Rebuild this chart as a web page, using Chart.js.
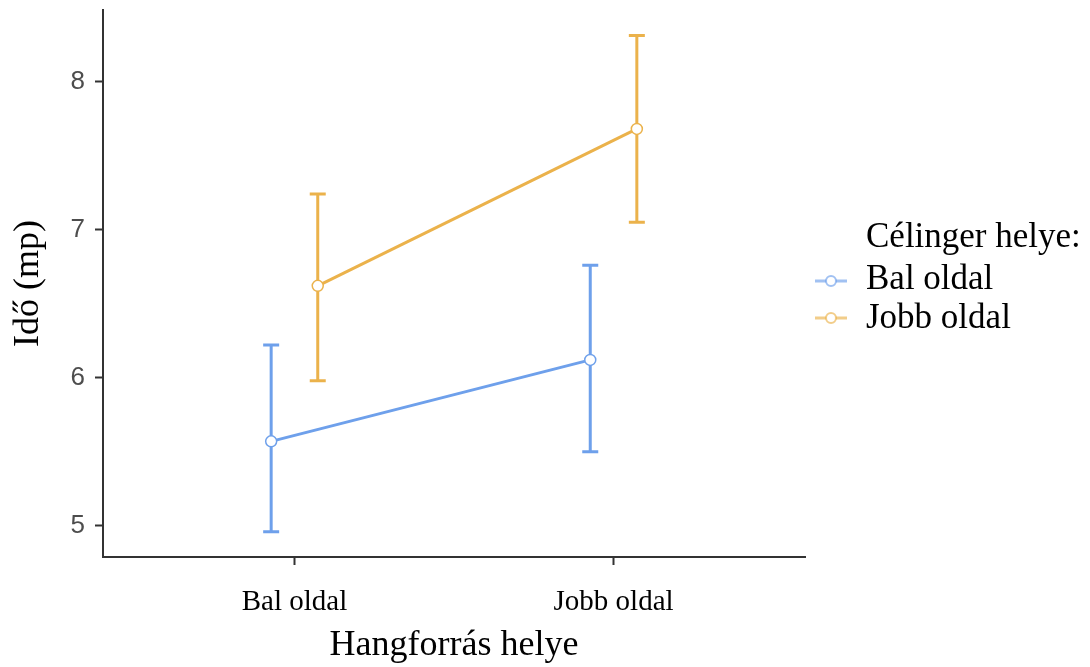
<!DOCTYPE html>
<html>
<head>
<meta charset="utf-8">
<title>Idő (mp)</title>
<script src="https://cdn.jsdelivr.net/npm/chart.js@4/dist/chart.umd.min.js"></script>
<style>
  html, body { margin: 0; padding: 0; background: #ffffff; }
  #wrap { width: 1090px; height: 667px; }
</style>
</head>
<body>
<div id="wrap"><canvas id="chart" width="1090" height="667"></canvas></div>
<script>
// Categories on the x axis (Hangforrás helye)
const categories = ['Bal oldal', 'Jobb oldal'];
// Legend entries (Célinger helye)
const seriesNames = ['Bal oldal', 'Jobb oldal'];
const legendTitle = 'Célinger helye:';

// Means with lower / upper error-bar limits, per series
const balMean  = [5.57, 6.12];
const balLow   = [4.96, 5.50];
const balHigh  = [6.22, 6.76];
const jobbMean = [6.62, 7.68];
const jobbLow  = [5.98, 7.05];
const jobbHigh = [7.24, 8.31];

// Y tick values
const yTicks = [5, 6, 7, 8];

const blue = '#6EA0EB';
const orange = '#EBB24B';
const serif = "'Liberation Serif', 'Times New Roman', serif";
const sans = "'Liberation Sans', Arial, sans-serif";

// Horizontal dodge between the two series within a category
const dodge = 0.073;

function toPoints(means, shift) {
  return means.map((v, i) => ({ x: i + 1 + shift, y: v }));
}

const seriesDefs = [
  { name: seriesNames[0], mean: balMean, low: balLow, high: balHigh, color: blue, shift: -dodge },
  { name: seriesNames[1], mean: jobbMean, low: jobbLow, high: jobbHigh, color: orange, shift: dodge }
];

// Error bars drawn through the chart's own scales
const errorBars = {
  id: 'errorBars',
  beforeDatasetsDraw(chart) {
    const { ctx, scales: { x, y } } = chart;
    ctx.save();
    seriesDefs.forEach(s => {
      ctx.strokeStyle = s.color;
      ctx.lineWidth = 3;
      ctx.lineCap = 'butt';
      s.mean.forEach((_, i) => {
        const px = x.getPixelForValue(i + 1 + s.shift);
        const yl = y.getPixelForValue(s.low[i]);
        const yh = y.getPixelForValue(s.high[i]);
        const half = 8;
        ctx.beginPath();
        ctx.moveTo(px, yl); ctx.lineTo(px, yh);
        ctx.moveTo(px - half, yl); ctx.lineTo(px + half, yl);
        ctx.moveTo(px - half, yh); ctx.lineTo(px + half, yh);
        ctx.stroke();
      });
    });
    ctx.restore();
  }
};

// Legend to the right of the plotting area
const sideLegend = {
  id: 'sideLegend',
  afterDraw(chart) {
    const { ctx, chartArea } = chart;
    const textX = chartArea.right + 61;
    const keyX = chartArea.right + 26;
    ctx.save();
    ctx.font = '35px ' + serif;
    ctx.fillStyle = '#000000';
    ctx.textAlign = 'left';
    ctx.textBaseline = 'alphabetic';
    ctx.fillText(legendTitle, textX, 247);
    const baselines = [289, 328];
    const keyYs = [281, 318];
    seriesDefs.forEach((s, i) => {
      ctx.globalAlpha = 0.65;
      ctx.strokeStyle = s.color;
      ctx.lineWidth = 3;
      ctx.beginPath();
      ctx.moveTo(keyX - 16, keyYs[i]);
      ctx.lineTo(keyX + 16, keyYs[i]);
      ctx.stroke();
      ctx.globalAlpha = 1;
      ctx.beginPath();
      ctx.arc(keyX, keyYs[i], 5, 0, Math.PI * 2);
      ctx.fillStyle = '#ffffff';
      ctx.fill();
      ctx.globalAlpha = 0.65;
      ctx.lineWidth = 2;
      ctx.stroke();
      ctx.globalAlpha = 1;
      ctx.fillStyle = '#000000';
      ctx.fillText(s.name, textX, baselines[i]);
    });
    ctx.restore();
  }
};

new Chart(document.getElementById('chart'), {
  type: 'scatter',
  data: {
    datasets: seriesDefs.map(s => ({
      label: s.name,
      data: toPoints(s.mean, s.shift),
      showLine: true,
      borderColor: s.color,
      borderWidth: 3,
      pointRadius: 5.5,
      pointHoverRadius: 5.5,
      pointBorderWidth: 1.5,
      pointBackgroundColor: '#ffffff',
      pointBorderColor: s.color
    }))
  },
  options: {
    responsive: false,
    animation: false,
    devicePixelRatio: 1,
    layout: { padding: { top: 10, right: 285, bottom: 0, left: 0 } },
    plugins: {
      legend: { display: false },
      tooltip: { enabled: false }
    },
    scales: {
      x: {
        type: 'linear',
        min: 0.4,
        max: 2.6,
        afterBuildTicks(scale) {
          scale.ticks = categories.map((_, i) => ({ value: i + 1 }));
        },
        afterFit(scale) {
          scale.height = 110;
          scale.paddingLeft = 0;
          scale.paddingRight = 0;
        },
        ticks: {
          callback: v => categories[Math.round(v) - 1] || '',
          font: { family: serif, size: 29 },
          color: '#000000',
          padding: 20,
          maxRotation: 0,
          autoSkip: false
        },
        grid: {
          drawOnChartArea: false,
          drawTicks: true,
          tickLength: 8,
          tickWidth: 2,
          tickColor: '#333333'
        },
        border: { display: true, color: '#333333', width: 2 },
        title: {
          display: true,
          text: 'Hangforrás helye',
          font: { family: serif, size: 36 },
          color: '#000000',
          padding: { top: 0, bottom: 0 }
        }
      },
      y: {
        type: 'linear',
        min: 4.789,
        max: 8.483,
        afterBuildTicks(scale) {
          scale.ticks = yTicks.map(v => ({ value: v }));
        },
        afterFit(scale) {
          scale.width = 103;
          scale.paddingTop = 0;
          scale.paddingBottom = 0;
        },
        ticks: {
          font: { family: sans, size: 26 },
          color: '#4D4D4D',
          padding: 10
        },
        grid: {
          drawOnChartArea: false,
          drawTicks: true,
          tickLength: 8,
          tickWidth: 2,
          tickColor: '#333333'
        },
        border: { display: true, color: '#333333', width: 2 },
        title: {
          display: true,
          text: 'Idő (mp)',
          font: { family: serif, size: 36 },
          color: '#000000',
          padding: { top: 7, bottom: 0 }
        }
      }
    }
  },
  plugins: [errorBars, sideLegend]
});
</script>
</body>
</html>
